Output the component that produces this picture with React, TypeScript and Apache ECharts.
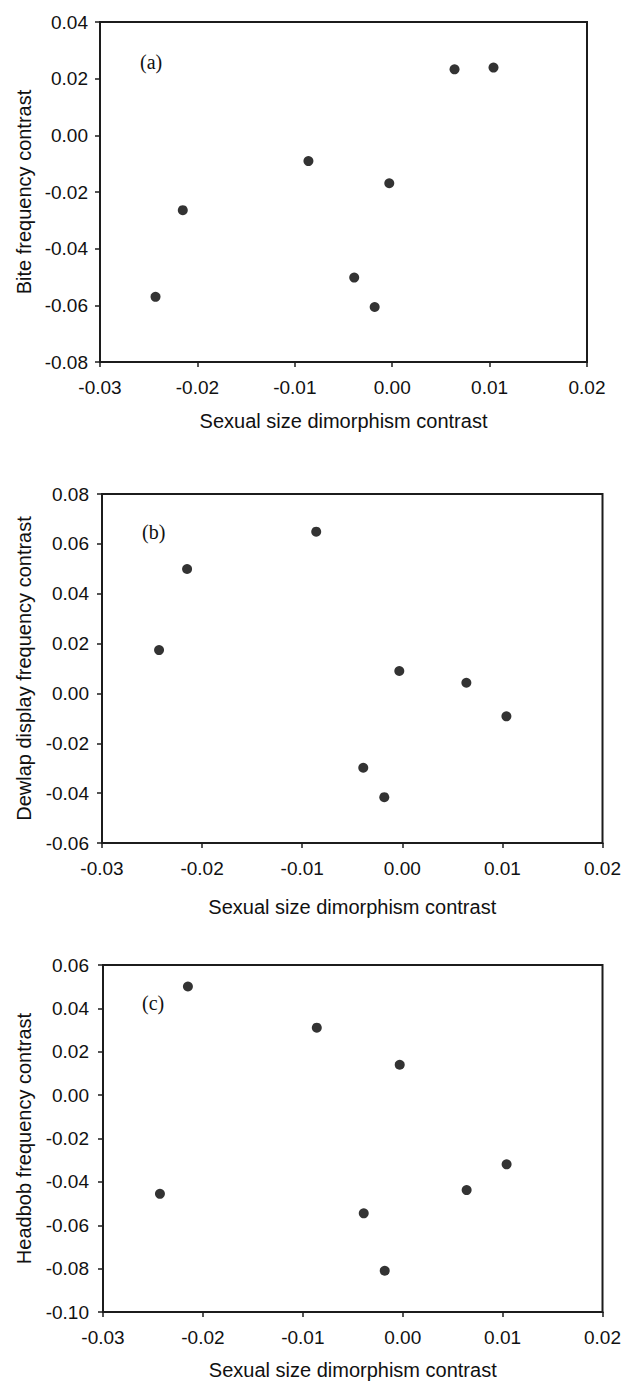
import React, { useEffect, useRef } from "react";
import * as echarts from "echarts";

const ssdContrast = [-0.0243, -0.0215, -0.0086, -0.0039, -0.0018, -0.0003, 0.0064, 0.0104];
const biteContrast = [-0.057, -0.0264, -0.0091, -0.0502, -0.0606, -0.0169, 0.0233, 0.0239];
const dewlapContrast = [0.0174, 0.0499, 0.0649, -0.0298, -0.0416, 0.009, 0.0043, -0.0092];
const headbobContrast = [-0.0455, 0.0501, 0.0311, -0.0545, -0.081, 0.014, -0.0438, -0.0319];

const panelLabels = ["(a)", "(b)", "(c)"];
const yTitles = ["Bite frequency contrast", "Dewlap display frequency contrast", "Headbob frequency contrast"];
const xTitle = "Sexual size dimorphism contrast";
const yRanges = [
  [-0.08, 0.04],
  [-0.06, 0.08],
  [-0.1, 0.06],
];
const xRange = [-0.03, 0.02];

const fmt = (v: number) => (Math.abs(v) < 1e-9 ? "0.00" : v.toFixed(2));

export default function App() {
  const ref = useRef<HTMLDivElement>(null);
  useEffect(() => {
    document.body.style.margin = "0";
    if (!ref.current) return;
    const chart = echarts.init(ref.current, undefined, { renderer: "svg" });
    const ink = "#1c1c1c";
    const sans = "Liberation Sans, Arial, sans-serif";
    const grids = [
      { left: 100, top: 22, width: 487, height: 340 },
      { left: 102, top: 494, width: 502, height: 349 },
      { left: 103, top: 965, width: 500, height: 350 },
    ];
    const xNameGaps = [49, 54, 48];
    const yNameGaps = [66, 68, 69];
    const yLabelMargins = [12, 13, 14];
    const yData = [biteContrast, dewlapContrast, headbobContrast];
    const labelPos = [
      [140, 62],
      [142, 532],
      [142, 1003],
    ];
    const option: any = {
      animation: false,
      backgroundColor: "#ffffff",
      grid: grids.map((g) => ({
        ...g,
        show: true,
        borderColor: ink,
        borderWidth: 2,
        backgroundColor: "transparent",
      })),
      xAxis: grids.map((_, i) => ({
        type: "value",
        gridIndex: i,
        min: xRange[0],
        max: xRange[1],
        interval: 0.01,
        name: xTitle,
        nameLocation: "middle",
        nameGap: xNameGaps[i],
        nameTextStyle: { fontFamily: sans, fontSize: 20, color: "#111" },
        axisLine: { show: true, onZero: false, lineStyle: { color: ink, width: 2 } },
        axisTick: { show: true, inside: false, length: 5, lineStyle: { color: ink, width: 1.5 } },
        axisLabel: { margin: 16, fontFamily: sans, fontSize: 19, color: "#111", formatter: fmt },
        splitLine: { show: false },
      })),
      yAxis: grids.map((_, i) => ({
        type: "value",
        gridIndex: i,
        min: yRanges[i][0],
        max: yRanges[i][1],
        interval: 0.02,
        name: yTitles[i],
        nameLocation: "middle",
        nameRotate: 90,
        nameGap: yNameGaps[i],
        nameTextStyle: { fontFamily: sans, fontSize: 20, color: "#111" },
        axisLine: { show: true, onZero: false, lineStyle: { color: ink, width: 2 } },
        axisTick: { show: true, inside: false, length: 5, lineStyle: { color: ink, width: 1.5 } },
        axisLabel: { margin: yLabelMargins[i], fontFamily: sans, fontSize: 19, color: "#111", formatter: fmt },
        splitLine: { show: false },
      })),
      series: yData.map((ys, i) => ({
        type: "scatter",
        xAxisIndex: i,
        yAxisIndex: i,
        symbol: "circle",
        symbolSize: 10,
        itemStyle: { color: "#000" },
        data: ssdContrast.map((x, k) => [x, ys[k]]),
      })),
      graphic: panelLabels.map((t, i) => ({
        type: "text",
        x: labelPos[i][0],
        y: labelPos[i][1],
        style: {
          text: t,
          fontFamily: "Liberation Serif, Times New Roman, serif",
          fontSize: 20,
          fill: "#111",
          verticalAlign: "middle",
          align: "left",
        },
      })),
    };
    chart.setOption(option);
    return () => chart.dispose();
  }, []);
  return <div ref={ref} style={{ width: 624, height: 1381, overflow: "hidden" }} />;
}
